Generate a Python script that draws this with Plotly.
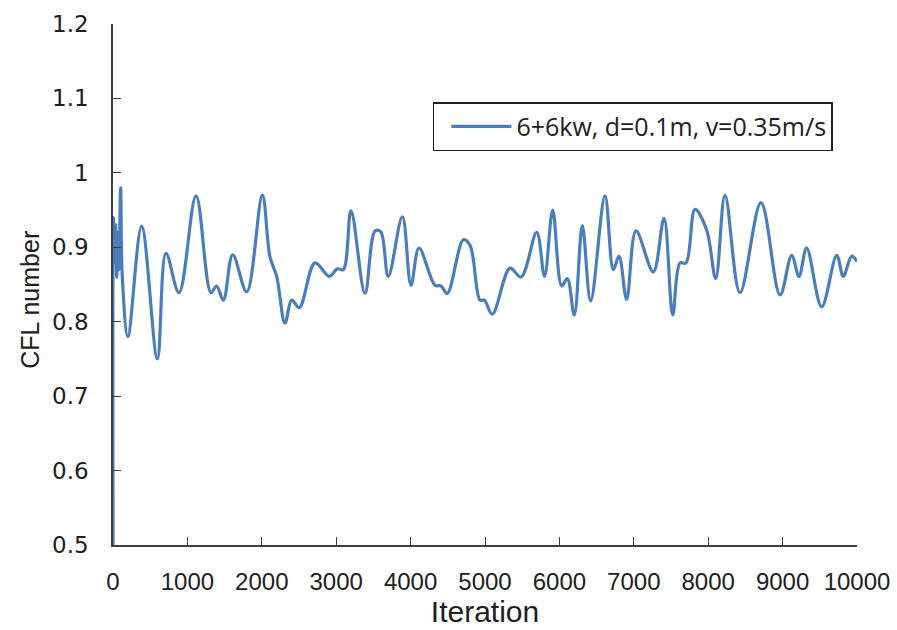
import plotly.graph_objects as go

# CFL number history over the solver iterations
iterations = [0, 5, 20, 35, 50, 65, 80, 103, 125, 200, 385, 596, 712, 887,
              1116, 1317, 1393, 1483, 1609, 1797, 2007, 2110, 2200, 2312,
              2402, 2504, 2715, 2907, 3015, 3096, 3199, 3387, 3522, 3598,
              3700, 3889, 4005, 4113, 4328, 4409, 4493, 4709, 4798, 4933,
              4991, 5098, 5336, 5484, 5695, 5800, 5910, 6031, 6106, 6200,
              6308, 6420, 6613, 6725, 6801, 6904, 7030, 7262, 7406, 7523,
              7621, 7702, 7823, 7980, 8101, 8226, 8427, 8710, 8965, 9122,
              9220, 9323, 9525, 9727, 9816, 9928, 10000]
cfl = [0.50, 0.94, 0.88, 0.93, 0.86, 0.92, 0.87, 0.98, 0.86, 0.78, 0.928,
       0.75, 0.892, 0.839, 0.969, 0.839, 0.848, 0.829, 0.890, 0.840, 0.970,
       0.887, 0.861, 0.798, 0.829, 0.819, 0.879, 0.861, 0.871, 0.870, 0.949,
       0.838, 0.922, 0.921, 0.861, 0.941, 0.849, 0.899, 0.849, 0.848, 0.838,
       0.910, 0.903, 0.829, 0.829, 0.810, 0.872, 0.860, 0.920, 0.861, 0.950,
       0.848, 0.858, 0.809, 0.929, 0.828, 0.969, 0.870, 0.888, 0.830, 0.922,
       0.867, 0.939, 0.809, 0.879, 0.879, 0.951, 0.923, 0.858, 0.970, 0.839,
       0.960, 0.836, 0.889, 0.861, 0.899, 0.820, 0.889, 0.861, 0.888, 0.881]

series_name = "6+6kw, d=0.1m, v=0.35m/s"
x_ticks = list(range(0, 10001, 1000))
x_tick_text = [str(v) for v in x_ticks]
y_ticks = [0.5, 0.6, 0.7, 0.8, 0.9, 1.0, 1.1, 1.2]
y_tick_text = ["0.5", "0.6", "0.7", "0.8", "0.9", "1", "1.1", "1.2"]

fig = go.Figure()
fig.add_trace(go.Scatter(
    x=iterations, y=cfl, mode="lines", name=series_name,
    line=dict(color="#4A7EBB", width=3.2, shape="spline", smoothing=1.0),
))

axis_color = "#404040"
text_color = "#202020"
fig.update_layout(
    width=897, height=630,
    margin=dict(l=113, r=40, t=24, b=85, autoexpand=False),
    paper_bgcolor="white", plot_bgcolor="white",
    showlegend=True,
    legend=dict(
        x=0.43, y=0.85, xanchor="left", yanchor="top",
        bordercolor=text_color, borderwidth=1.5, bgcolor="white",
        font=dict(family="Open Sans, Noto Sans, sans-serif", size=25, color=text_color),
        itemwidth=60, indentation=12,
    ),
    xaxis=dict(
        range=[0, 10000], tickvals=x_ticks, ticktext=x_tick_text,
        ticks="inside", ticklen=8, automargin=False,
        tickcolor=axis_color, showline=True, linecolor=axis_color, linewidth=1.5,
        showgrid=False, zeroline=False, ticklabelstandoff=14,
        tickfont=dict(family="Liberation Sans, Arial", size=24, color=text_color),
        title=dict(text="Iteration", standoff=4,
                   font=dict(family="Liberation Sans, Arial", size=30, color=text_color)),
    ),
    yaxis=dict(
        range=[0.5, 1.2], tickvals=y_ticks, ticktext=y_tick_text,
        ticks="inside", ticklen=8, automargin=False,
        tickcolor=axis_color, showline=True, linecolor=axis_color, linewidth=1.5,
        showgrid=False, zeroline=False, ticklabelstandoff=18,
        tickfont=dict(family="DejaVu Sans, Verdana", size=23, color=text_color),
    ),
    # vertical axis title, set slightly below the plot-area centre
    annotations=[dict(
        text="CFL number", textangle=-90, showarrow=False,
        xref="paper", yref="paper", x=-0.112, y=0.47,
        xanchor="center", yanchor="middle",
        font=dict(family="Liberation Sans, Arial", size=25, color=text_color),
    )],
)

fig.write_html("out.html")
